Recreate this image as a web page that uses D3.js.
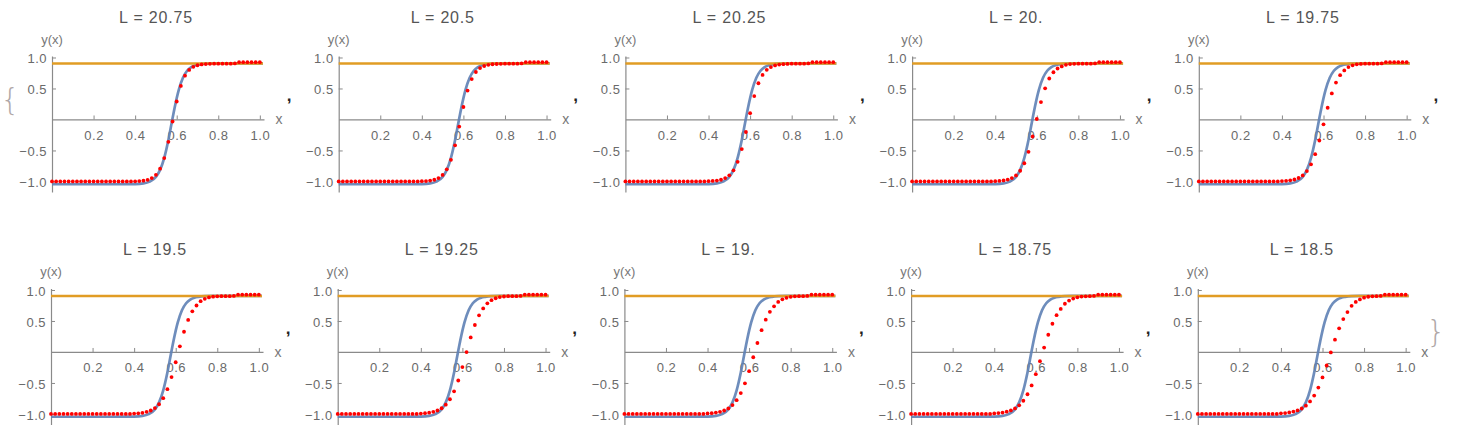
<!DOCTYPE html>
<html><head><meta charset="utf-8">
<script src="https://cdn.jsdelivr.net/npm/d3@7"></script>
<style>html,body{margin:0;padding:0;background:#fff;} svg{display:block;}</style>
</head><body>
<svg id="chart" width="1472" height="438"></svg>
<script>
// ---------- data ----------
const lLabels = ["20.75","20.5","20.25","20.","19.75","19.5","19.25","19.","18.75","18.5"];

const xGrid = [0,0.02,0.04,0.06,0.08,0.1,0.12,0.14,0.16,0.18,0.2,0.22,0.24,0.26,0.28,0.3,0.32,0.34,0.36,0.38,
  0.4,0.42,0.44,0.46,0.48,0.5,0.52,0.54,0.56,0.58,0.6,0.62,0.64,0.66,0.68,0.7,0.72,0.74,0.76,0.78,0.8,0.82,0.84,0.86,
  0.88,0.9,0.92,0.94,0.96,0.98,1.0];

const redL2075 = [-1,-1,-1,-1,-1,-1,-1,-1,-1,-1,-1,-1,-1,-1,-1,-1,-1,-1,-1,-1,
  -0.997,-0.993,-0.987,-0.973,-0.946,-0.893,-0.794,-0.622,-0.360,-0.033,0.290,0.542,0.706,0.800,0.850,0.875,0.888,0.894,0.897,0.9,0.9,0.9,0.9,0.9,
  0.905,0.925,0.925,0.925,0.925,0.925,0.925];
const redL2050 = [-1,-1,-1,-1,-1,-1,-1,-1,-1,-1,-1,-1,-1,-1,-1,-1,-1,-1,-1,-1,
  -0.996,-0.993,-0.986,-0.972,-0.945,-0.895,-0.805,-0.651,-0.417,-0.115,0.201,0.467,0.652,0.766,0.830,0.863,0.881,0.891,0.895,0.898,0.9,0.9,0.9,0.9,
  0.905,0.925,0.925,0.925,0.925,0.925,0.925];
const redL2025 = [-1,-1,-1,-1,-1,-1,-1,-1,-1,-1,-1,-1,-1,-1,-1,-1,-1,-1,-1,-1,
  -0.995,-0.992,-0.986,-0.972,-0.946,-0.901,-0.820,-0.684,-0.477,-0.202,0.102,0.377,0.584,0.719,0.801,0.846,0.872,0.885,0.892,0.896,0.9,0.9,0.9,0.9,
  0.905,0.925,0.925,0.925,0.925,0.925,0.925];
const redL2000 = [-1,-1,-1,-1,-1,-1,-1,-1,-1,-1,-1,-1,-1,-1,-1,-1,-1,-1,-1,-1,
  -0.995,-0.991,-0.984,-0.969,-0.945,-0.902,-0.827,-0.706,-0.522,-0.275,0.008,0.281,0.503,0.661,0.762,0.822,0.856,0.882,0.893,0.897,0.9,0.9,0.9,0.9,
  0.905,0.925,0.925,0.925,0.925,0.925,0.925];
const redL1975 = [-1,-1,-1,-1,-1,-1,-1,-1,-1,-1,-1,-1,-1,-1,-1,-1,-1,-1,-1,-1,
  -0.994,-0.990,-0.982,-0.968,-0.944,-0.902,-0.833,-0.723,-0.560,-0.339,-0.078,0.189,0.421,0.596,0.715,0.791,0.845,0.874,0.889,0.896,0.9,0.9,0.9,0.9,
  0.905,0.925,0.925,0.925,0.925,0.925,0.925];
const redL1950 = [-1,-1,-1,-1,-1,-1,-1,-1,-1,-1,-1,-1,-1,-1,-1,-1,-1,-1,-1,-1,
  -0.993,-0.989,-0.981,-0.966,-0.944,-0.905,-0.843,-0.745,-0.600,-0.405,-0.166,0.091,0.326,0.517,0.656,0.750,0.820,0.858,0.880,0.892,0.898,0.9,0.9,0.9,
  0.905,0.925,0.925,0.925,0.925,0.925,0.925];
const redL1925 = [-1,-1,-1,-1,-1,-1,-1,-1,-1,-1,-1,-1,-1,-1,-1,-1,-1,-1,-1,-1,
  -0.993,-0.988,-0.980,-0.966,-0.944,-0.908,-0.850,-0.763,-0.635,-0.460,-0.243,-0.002,0.234,0.435,0.591,0.702,0.785,0.836,0.867,0.885,0.895,0.9,0.9,0.9,
  0.905,0.925,0.925,0.925,0.925,0.925,0.925];
const redL1900 = [-1,-1,-1,-1,-1,-1,-1,-1,-1,-1,-1,-1,-1,-1,-1,-1,-1,-1,-1,-1,
  -0.992,-0.987,-0.978,-0.965,-0.944,-0.910,-0.857,-0.778,-0.663,-0.506,-0.310,-0.085,0.145,0.351,0.521,0.647,0.737,0.808,0.850,0.874,0.889,0.897,0.9,0.9,
  0.905,0.925,0.925,0.925,0.925,0.925,0.925];
const redL1875 = [-1,-1,-1,-1,-1,-1,-1,-1,-1,-1,-1,-1,-1,-1,-1,-1,-1,-1,-1,-1,
  -0.991,-0.986,-0.977,-0.963,-0.943,-0.910,-0.860,-0.787,-0.682,-0.539,-0.358,-0.149,0.071,0.278,0.455,0.594,0.695,0.778,0.830,0.862,0.882,0.893,0.898,0.9,
  0.905,0.925,0.925,0.925,0.925,0.925,0.925];
const redL1850 = [-1,-1,-1,-1,-1,-1,-1,-1,-1,-1,-1,-1,-1,-1,-1,-1,-1,-1,-1,-1,
  -0.990,-0.985,-0.976,-0.962,-0.943,-0.912,-0.866,-0.798,-0.703,-0.575,-0.411,-0.218,-0.008,0.198,0.381,0.530,0.644,0.745,0.808,0.848,0.876,0.891,0.898,0.9,
  0.905,0.925,0.925,0.925,0.925,0.925,0.925];
const redSeries = [redL2075,redL2050,redL2025,redL2000,redL1975,redL1950,redL1925,redL1900,redL1875,redL1850];

const blueX = [0,0.1,0.2,0.3,0.36,0.40,0.44,0.47,0.50,0.52,0.54,0.56,0.575,0.59,0.61,0.63,0.65,0.67,0.69,0.71,0.74,0.78,0.85,0.95,1.015];
const blueY = [-1.045,-1.045,-1.045,-1.045,-1.044,-1.042,-1.031,-1.002,-0.926,-0.813,-0.618,-0.330,-0.070,0.190,0.478,0.673,0.786,0.845,0.876,0.890,0.900,0.904,0.905,0.905,0.905];

const orangeX = [0, 1.015];
const orangeY = [0.905, 0.905];

const xTickValues = [0.2,0.4,0.6,0.8,1.0];
const xMinorValues = [0.05,0.1,0.15,0.25,0.3,0.35,0.45,0.5,0.55,0.65,0.7,0.75,0.85,0.9,0.95];
const yTickValues = [-1.0,-0.5,0.5,1.0];
const yMinorValues = [-1.1,-0.9,-0.8,-0.7,-0.6,-0.4,-0.3,-0.2,-0.1,0.1,0.2,0.3,0.4,0.6,0.7,0.8,0.9];

// ---------- drawing ----------
const FONT = "'Liberation Sans', Arial, sans-serif";
const svg = d3.select("#chart");
const W = 212, H = 136;
const x = d3.scaleLinear().domain([0, 1.02]).range([0, W]);
const y = d3.scaleLinear().domain([-1.17, 1.024]).range([H, 0]);
const colStep = 286.7;
const rowStep = 232.5;

const line = d3.line().x(d => x(d[0])).y(d => y(d[1])).curve(d3.curveMonotoneX);
const fmt = d3.format(".1f");
const minus = s => s.replace("-", "\u2212");

lLabels.forEach((lab, i) => {
  const row = Math.floor(i / 5), col = i % 5;
  const ox = (row === 0 ? 52 : 51) + col * colStep;
  const oy = 56 + row * rowStep;
  const g = svg.append("g").attr("transform", `translate(${ox},${oy})`);

  // title
  g.append("text").attr("x", 104).attr("y", -39)
    .attr("text-anchor", "middle").attr("dominant-baseline", "central")
    .attr("font-family", FONT).attr("font-size", 16).attr("letter-spacing", 0.8)
    .attr("fill", "#555").text("L = " + lab);

  // x axis
  const xAxisG = g.append("g").attr("transform", `translate(0,${y(0)})`);
  xAxisG.call(d3.axisBottom(x).tickValues(xMinorValues).tickSizeInner(-2.5).tickSizeOuter(0).tickFormat(""));
  xAxisG.call(d3.axisBottom(x).tickValues(xTickValues).tickSizeInner(-4).tickSizeOuter(0).tickFormat(fmt));
  // y axis
  const yAxisG = g.append("g");
  yAxisG.call(d3.axisLeft(y).tickValues(yMinorValues).tickSizeInner(-2.5).tickSizeOuter(0).tickFormat(""));
  yAxisG.call(d3.axisLeft(y).tickValues(yTickValues).tickSizeInner(-4).tickSizeOuter(0).tickFormat(d => minus(fmt(d))));

  [xAxisG, yAxisG].forEach(a => {
    a.selectAll("path.domain").attr("stroke", "#8a8a8a").attr("stroke-width", 1.2);
    a.selectAll(".tick line").attr("stroke", "#8a8a8a").attr("stroke-width", 1);
    a.selectAll(".tick text").attr("font-family", FONT).attr("font-size", 13)
      .attr("letter-spacing", 0.5).attr("fill", "#6a6a6a");
  });
  xAxisG.selectAll(".tick text").attr("y", 15.5).attr("dy", "0.35em");
  yAxisG.selectAll(".tick text").attr("x", -5).attr("dy", "0.4em");

  // axis labels
  g.append("text").attr("x", 0).attr("y", -17).attr("text-anchor", "middle")
    .attr("dominant-baseline", "central").attr("font-family", FONT).attr("font-size", 13)
    .attr("fill", "#777").text("y(x)");
  g.append("text").attr("x", 227).attr("y", y(0)).attr("text-anchor", "middle")
    .attr("dominant-baseline", "central").attr("font-family", FONT).attr("font-size", 14)
    .attr("fill", "#777").text("x");

  // blue curve
  g.append("path").datum(blueX.map((v, k) => [v, blueY[k]]))
    .attr("d", line).attr("fill", "none").attr("stroke", "#5E81B5")
    .attr("stroke-width", 2.7).attr("stroke-opacity", 0.9);
  // orange line
  g.append("path").datum(orangeX.map((v, k) => [v, orangeY[k]]))
    .attr("d", line).attr("fill", "none").attr("stroke", "#E19C24")
    .attr("stroke-width", 2.5);
  // red points
  g.selectAll("circle.red").data(xGrid.map((v, k) => [v, redSeries[i][k]]))
    .enter().append("circle").attr("class", "red")
    .attr("cx", d => x(d[0])).attr("cy", d => y(d[1])).attr("r", 1.9).attr("fill", "#ff0000");

  // comma separator
  if (i < 9) {
    svg.append("text").attr("x", ox + 237).attr("y", 101 + row * rowStep)
      .attr("text-anchor", "middle").attr("font-family", FONT).attr("font-size", 17)
      .attr("font-weight", "bold").attr("fill", "#222").text(",");
  }
});

// list braces
svg.append("text").attr("x", 10).attr("y", 99).attr("text-anchor", "middle")
  .attr("dominant-baseline", "central").attr("font-family", "'DejaVu Sans', sans-serif")
  .attr("font-weight", 200).attr("font-size", 30).attr("fill", "#b0a8a8").text("{");
svg.append("text").attr("x", 1436).attr("y", 331).attr("text-anchor", "middle")
  .attr("dominant-baseline", "central").attr("font-family", "'DejaVu Sans', sans-serif")
  .attr("font-weight", 200).attr("font-size", 30).attr("fill", "#b0a8a8").text("}");
</script>
</body></html>
